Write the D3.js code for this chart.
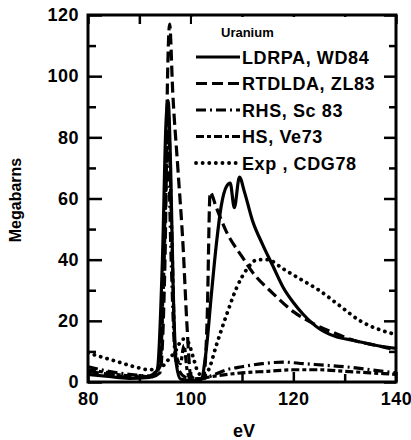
<!DOCTYPE html>
<html>
<head>
<meta charset="utf-8">
<script src="https://cdn.jsdelivr.net/npm/d3@7"></script>
<style>
  body { margin: 0; background: #fff; }
  text { font-family: "Liberation Sans", Arial, sans-serif; font-weight: bold; fill: #000; }
</style>
</head>
<body>
<div id="chart"></div>
<script>
// tick values
const xLabels = [80, 100, 120, 140];
const xMinor = [90, 110, 130];
const yLabels = [0, 20, 40, 60, 80, 100, 120];
const yMinor = [10, 30, 50, 70, 90, 110];

// LDRPA, WD84 (solid)
const ldrpaEv = [80, 84, 88, 92, 93.5, 94.5, 95.2, 95.6, 96.1, 96.6, 97.2, 98, 100, 102, 103, 104, 105, 106, 107, 107.7, 108.5, 109.5, 110.5, 112, 114, 116, 118, 120, 122, 125, 128, 132, 136, 140];
const ldrpaMb = [2.5, 1.8, 1.2, 1.5, 4, 40, 85, 92, 70, 30, 6, 1, 0.5, 0.8, 10, 28, 45, 58, 64, 65, 57, 67, 62, 53, 45, 38, 31, 26, 22, 17.5, 15, 13.5, 12, 11];

// RTDLDA, ZL83 (dashed)
const rtdldaEv = [80, 84, 88, 92, 94, 95, 95.5, 95.9, 96.5, 97.5, 98.5, 99.3, 100, 101, 102.5, 103.2, 103.8, 105, 107, 110, 112, 116, 120, 124, 128, 132, 136, 140];
const rtdldaMb = [3.5, 2.5, 1.5, 1.5, 3, 40, 100, 117, 95, 70, 45, 18, 2, 1, 1.5, 20, 62, 57, 49, 41, 36, 29, 23, 19, 16, 13.5, 12, 10.5];

// RHS, Sc83 (dash-dot)
const rhsEv = [80, 84, 88, 92, 94, 95, 95.5, 96.2, 97, 98, 99, 100, 102, 104, 107, 110, 114, 118, 122, 126, 130, 135, 140];
const rhsMb = [5, 3.5, 2.5, 2, 6, 50, 80, 40, 8, 3, 1.5, 1, 1, 2, 4, 5, 6, 6.5, 6, 5.5, 5, 4, 3];

// HS, Ve73 (dash-short-dash)
const hsEv = [80, 84, 88, 92, 94, 95, 95.6, 96.3, 97, 98, 98.7, 99.3, 100, 102, 105, 110, 115, 120, 125, 130, 135, 140];
const hsMb = [4, 3, 2, 1.8, 5, 55, 88, 50, 10, 6, 12, 4, 1, 1.2, 2, 3, 3.5, 4, 4, 3.5, 3, 2.5];

// Exp, CDG78 (dotted)
const expEv = [80, 83, 86, 89, 92, 94, 95.5, 97, 98.5, 99.5, 100.5, 101.5, 102.5, 103.5, 105, 107, 109, 111, 113, 115, 118, 121, 125, 129, 133, 137, 140];
const expMb = [9.5, 8, 6.5, 5, 4, 4.5, 7, 10, 14, 13, 8, 3, 2, 4, 12, 22, 31, 37, 40, 40, 37, 34, 30, 25, 20, 17, 15.5];

const seriesNames = ["LDRPA, WD84", "RTDLDA, ZL83", "RHS, Sc 83", "HS, Ve73", "Exp , CDG78"];

const series = [
    {name: seriesNames[0], ev: ldrpaEv, mb: ldrpaMb, dash: null, width: 3.2},
    {name: seriesNames[1], ev: rtdldaEv, mb: rtdldaMb, dash: "11,5", width: 3.2},
    {name: seriesNames[2], ev: rhsEv, mb: rhsMb, dash: "10,4,2,4", width: 3.2},
    {name: seriesNames[3], ev: hsEv, mb: hsMb, dash: "8,3,4,3", width: 3.2},
    {name: seriesNames[4], ev: expEv, mb: expMb, dash: "0.1,6.5", width: 3.8}
];

const width = 411, height = 440;
const plot = {left: 88, right: 396, top: 15, bottom: 382};

const svg = d3.select("#chart")
    .append("svg")
    .attr("width", width)
    .attr("height", height);

const x = d3.scaleLinear().domain([80, 140]).range([plot.left, plot.right]);
const y = d3.scaleLinear().domain([0, 120]).range([plot.bottom, plot.top]);

svg.append("clipPath").attr("id", "clip")
    .append("rect")
    .attr("x", plot.left).attr("y", plot.top)
    .attr("width", plot.right - plot.left).attr("height", plot.bottom - plot.top);

// curves
const line = d3.line()
    .x(d => x(d[0]))
    .y(d => y(d[1]))
    .curve(d3.curveMonotoneX);

series.forEach(s => {
    svg.append("path")
        .datum(s.ev.map((e, i) => [e, s.mb[i]]))
        .attr("clip-path", "url(#clip)")
        .attr("fill", "none")
        .attr("stroke", "#000")
        .attr("stroke-width", s.width)
        .attr("stroke-linecap", s.dash === "0.1,6.5" ? "round" : "butt")
        .attr("stroke-dasharray", s.dash)
        .attr("d", line);
});

// axes with inward ticks
function styleAxis(g) {
    g.select(".domain").remove();
    g.selectAll(".tick line").attr("stroke", "#000").attr("stroke-width", 2.5);
    g.selectAll("text")
        .style("font-size", "18px")
        .style("letter-spacing", "0.5px")
        .style("font-family", "Liberation Sans, Arial, sans-serif")
        .style("font-weight", "bold");
}

svg.append("g")
    .attr("transform", `translate(${plot.left},0)`)
    .call(d3.axisLeft(y).tickValues(yLabels).tickSize(-14).tickPadding(9))
    .call(styleAxis);

svg.append("g")
    .attr("transform", `translate(${plot.left},0)`)
    .call(d3.axisLeft(y).tickValues(yMinor).tickSize(-8).tickFormat(""))
    .call(styleAxis);

svg.append("g")
    .attr("transform", `translate(${plot.right},0)`)
    .call(d3.axisRight(y).tickValues(yLabels).tickSize(-12).tickFormat(""))
    .call(styleAxis);

svg.append("g")
    .attr("transform", `translate(${plot.right},0)`)
    .call(d3.axisRight(y).tickValues(yMinor).tickSize(-7).tickFormat(""))
    .call(styleAxis);

svg.append("g")
    .attr("transform", `translate(0,${plot.bottom})`)
    .call(d3.axisBottom(x).tickValues(xLabels).tickSize(-10).tickPadding(10))
    .call(styleAxis);

svg.append("g")
    .attr("transform", `translate(0,${plot.bottom})`)
    .call(d3.axisBottom(x).tickValues(xMinor).tickSize(-8).tickFormat(""))
    .call(styleAxis);

svg.append("g")
    .attr("transform", `translate(0,${plot.top})`)
    .call(d3.axisTop(x).tickValues(xLabels.concat(xMinor)).tickSize(-9).tickFormat(""))
    .call(styleAxis);

// legend (white background hides curves/ticks under it)
const legend = svg.append("g");
legend.append("rect")
    .attr("x", 192).attr("y", plot.top + 2)
    .attr("width", 190).attr("height", 158)
    .attr("fill", "#fff");

legend.append("text")
    .attr("x", 221).attr("y", 37)
    .style("font-size", "13px")
    .text("Uranium");

series.forEach((s, i) => {
    const cy = 57 + i * 26.5;
    legend.append("line")
        .attr("x1", 196).attr("x2", 240)
        .attr("y1", cy).attr("y2", cy)
        .attr("stroke", "#000")
        .attr("stroke-width", s.width)
        .attr("stroke-linecap", s.dash === "0.1,6.5" ? "round" : "butt")
        .attr("stroke-dasharray", s.dash);
    legend.append("text")
        .attr("x", 242).attr("y", cy + 6.5)
        .style("font-size", "18px")
        .style("letter-spacing", "0.6px")
        .text(s.name);
});

// frame
svg.append("rect")
    .attr("x", plot.left).attr("y", plot.top)
    .attr("width", plot.right - plot.left).attr("height", plot.bottom - plot.top)
    .attr("fill", "none")
    .attr("stroke", "#000")
    .attr("stroke-width", 3);

// axis titles
svg.append("text")
    .attr("transform", "translate(21,200) rotate(-90)")
    .attr("text-anchor", "middle")
    .style("font-size", "16px")
    .text("Megabarns");

svg.append("text")
    .attr("x", 244).attr("y", 437)
    .attr("text-anchor", "middle")
    .style("font-size", "18px")
    .text("eV");
</script>
</body>
</html>
